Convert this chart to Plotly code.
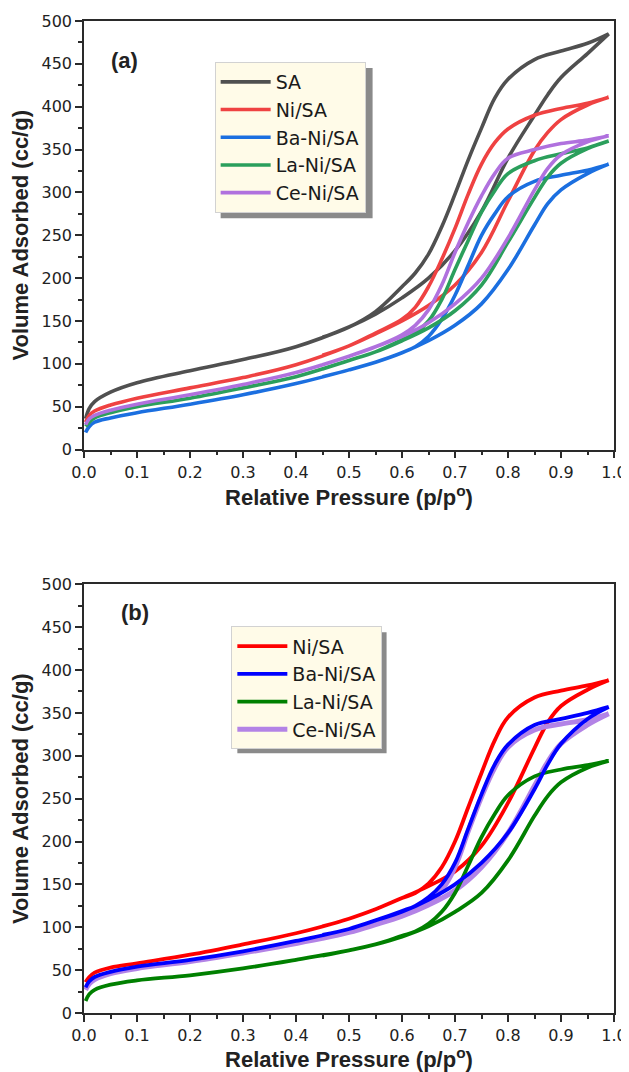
import plotly.graph_objects as go

# ---------------- data ----------------
P_ADS = [0.003, 0.01, 0.02, 0.05, 0.1, 0.2, 0.3, 0.4, 0.5, 0.55, 0.6, 0.65, 0.7, 0.75, 0.8, 0.85, 0.875, 0.9, 0.95, 0.99]
P_DES = [0.99, 0.95, 0.9, 0.85, 0.8, 0.775, 0.75, 0.725, 0.7, 0.675, 0.65, 0.625, 0.6, 0.55, 0.5, 0.45]

SERIES_A = ["SA", "Ni/SA", "Ba-Ni/SA", "La-Ni/SA", "Ce-Ni/SA"]
SA_ADS = [36, 48, 56, 67, 78, 92, 105, 120, 143, 158, 177, 200, 232, 278, 340, 390, 414, 434, 462, 485]
SA_DES = [485, 474, 465, 455, 432, 410, 375, 338, 298, 260, 228, 206, 190, 161, 143, 131]
NI_A_ADS = [32, 40, 45, 52, 60, 72, 84, 99, 121, 135, 150, 168, 192, 230, 290, 349, 370, 385, 402, 411]
NI_A_DES = [411, 404, 398, 390, 374, 358, 333, 298, 258, 222, 190, 166, 152, 136, 121, 110]
BA_A_ADS = [20, 27, 32, 37, 43, 53, 64, 77, 93, 102, 113, 127, 145, 170, 210, 262, 287, 303, 322, 333]
BA_A_DES = [333, 326, 320, 313, 295, 275, 250, 215, 180, 152, 132, 120, 113, 102, 93, 85]
LA_A_ADS = [27, 32, 37, 43, 50, 60, 72, 85, 104, 114, 127, 142, 162, 192, 242, 294, 318, 334, 351, 360]
LA_A_DES = [360, 352, 345, 337, 322, 302, 277, 244, 210, 175, 150, 136, 128, 114, 104, 94]
CE_A_ADS = [29, 36, 40, 46, 53, 64, 76, 90, 109, 120, 132, 148, 170, 200, 247, 303, 328, 344, 359, 366]
CE_A_DES = [366, 361, 357, 350, 340, 322, 296, 265, 230, 192, 163, 145, 134, 120, 109, 99]

SERIES_B = ["Ni/SA", "Ba-Ni/SA", "La-Ni/SA", "Ce-Ni/SA"]
NI_B_ADS = [36, 42, 47, 53, 58, 68, 80, 93, 110, 121, 134, 148, 165, 195, 245, 309, 339, 358, 377, 388]
NI_B_DES = [388, 382, 376, 368, 345, 318, 280, 240, 200, 170, 151, 140, 134, 121, 110, 101]
BA_B_ADS = [30, 37, 42, 48, 54, 62, 72, 84, 98, 108, 118, 132, 150, 175, 210, 261, 290, 314, 343, 357]
BA_B_DES = [357, 350, 343, 336, 313, 290, 255, 215, 175, 150, 135, 125, 119, 108, 98, 91]
LA_B_ADS = [14, 22, 27, 33, 38, 44, 52, 62, 73, 80, 89, 101, 118, 140, 178, 230, 253, 269, 286, 294]
LA_B_DES = [294, 289, 284, 276, 254, 232, 205, 172, 140, 118, 104, 95, 90, 80, 73, 67]
CE_B_ADS = [27, 34, 39, 46, 52, 60, 70, 81, 94, 103, 113, 126, 143, 170, 210, 265, 293, 314, 336, 349]
CE_B_DES = [349, 342, 337, 330, 310, 286, 252, 212, 170, 143, 128, 120, 114, 103, 94, 87]

X_TICKS = [0.0, 0.1, 0.2, 0.3, 0.4, 0.5, 0.6, 0.7, 0.8, 0.9, 1.0]
Y_TICKS = [0, 50, 100, 150, 200, 250, 300, 350, 400, 450, 500]

# ---------------- styling ----------------
COLORS_A = ["#505050", "#ef4242", "#1b6fe0", "#2b9f5c", "#b071de"]
COLORS_B = ["#ff0000", "#0000ff", "#008000", "#b383e6"]
WIDTHS_B = [3.8, 3.8, 3.8, 5.0]
DRAW_ORDER_B = [0, 3, 2, 1]  # lavender under blue, as in the reference
FONT = "Liberation Sans, Arial, Helvetica, sans-serif"
FONT_WIDE = "DejaVu Sans, Liberation Sans, sans-serif"
SMOOTH = 1.05

# The page body has an 8 px margin: the figure is shrunk and all screen
# positions are shifted by OFF so that the plot lands where the reference has it.
OFF = 8
W, H = 629 - OFF, 1072 - OFF
ML, MR, MT, MB = 84.3 - OFF, 14.5, 20.7 - OFF, 59.3
PW, PH = W - ML - MR, H - MT - MB


def fx(px):
    return (px - OFF - ML) / PW


def fy(py):
    return 1 - (py - OFF - MT) / PH


ads_a = [SA_ADS, NI_A_ADS, BA_A_ADS, LA_A_ADS, CE_A_ADS]
des_a = [SA_DES, NI_A_DES, BA_A_DES, LA_A_DES, CE_A_DES]
ads_b = [NI_B_ADS, BA_B_ADS, LA_B_ADS, CE_B_ADS]
des_b = [NI_B_DES, BA_B_DES, LA_B_DES, CE_B_DES]

fig = go.Figure()
for i, (name, a, d, c) in enumerate(zip(SERIES_A, ads_a, des_a, COLORS_A)):
    fig.add_trace(go.Scatter(
        x=P_ADS + P_DES, y=a + d, name=name, mode="lines", legendrank=i + 1,
        line=dict(color=c, width=3.6, shape="spline", smoothing=SMOOTH),
        xaxis="x", yaxis="y", legend="legend"))
for i in DRAW_ORDER_B:
    fig.add_trace(go.Scatter(
        x=P_ADS + P_DES, y=ads_b[i] + des_b[i], name=SERIES_B[i], mode="lines", legendrank=i + 1,
        line=dict(color=COLORS_B[i], width=WIDTHS_B[i], shape="spline", smoothing=SMOOTH),
        xaxis="x2", yaxis="y2", legend="legend2"))

axis_common = dict(
    showline=True, mirror=True, linecolor="#2a2a2a", linewidth=1.5,
    ticks="outside", ticklen=7, tickwidth=1.5, tickcolor="#2a2a2a",
    showgrid=False, zeroline=False, automargin=False,
    tickfont=dict(family=FONT_WIDE, size=16, color="#222"),
)
xa = dict(axis_common, range=[0, 1], tickvals=X_TICKS, ticktext=[f"{v:.1f}" for v in X_TICKS],
          minor=dict(ticks="outside", ticklen=4, tickwidth=1.5, tickcolor="#2a2a2a", dtick=0.05, tick0=0),
          title=dict(text="Relative Pressure (p/p<sup>o</sup>)", standoff=6,
                     font=dict(family=FONT, size=22, color="#222", weight="bold")))
ya = dict(axis_common, range=[0, 500], tickvals=Y_TICKS,
          minor=dict(ticks="outside", ticklen=4, tickwidth=1.5, tickcolor="#2a2a2a", dtick=25, tick0=0),
          title=dict(text="Volume Adsorbed (cc/g)", standoff=8,
                     font=dict(family=FONT, size=22, color="#222", weight="bold")))

legend_common = dict(
    xanchor="left", yanchor="top", bgcolor="#fffbe8", bordercolor="#d2d2d2", borderwidth=1,
    font=dict(family=FONT_WIDE, size=19, color="#1a1a1a"), itemwidth=50, tracegroupgap=0,
    itemclick=False, itemdoubleclick=False)

fig.update_layout(
    width=W, height=H, paper_bgcolor="white", plot_bgcolor="white",
    margin=dict(l=ML, r=MR, t=MT, b=MB, autoexpand=False),
    xaxis=dict(xa, domain=[0, 1], anchor="y"),
    yaxis=dict(ya, domain=[fy(449.3), 1], anchor="x"),
    xaxis2=dict(xa, domain=[0, 1], anchor="y2"),
    yaxis2=dict(ya, domain=[0, fy(584)], anchor="x2"),
    legend=dict(legend_common, x=fx(215), y=fy(61.7)),
    legend2=dict(legend_common, x=fx(231.7), y=fy(626)),
    showlegend=True,
    shapes=[
        dict(type="rect", xref="paper", yref="paper", x0=fx(221), x1=fx(373), y0=fy(218), y1=fy(67.7),
             fillcolor="#8a8a8a", line=dict(width=0), layer="above"),
        dict(type="rect", xref="paper", yref="paper", x0=fx(237.7), x1=fx(387), y0=fy(753), y1=fy(632),
             fillcolor="#8a8a8a", line=dict(width=0), layer="above"),
    ],
    annotations=[
        dict(text="(a)", x=fx(109), y=fy(45.5), xref="paper", yref="paper", showarrow=False,
             font=dict(family=FONT, size=22, color="#222", weight="bold")),
        dict(text="(b)", x=fx(119), y=fy(612), xref="paper", yref="paper", showarrow=False,
             font=dict(family=FONT, size=22, color="#222", weight="bold")),
    ],
)

fig.write_html("out.html")
